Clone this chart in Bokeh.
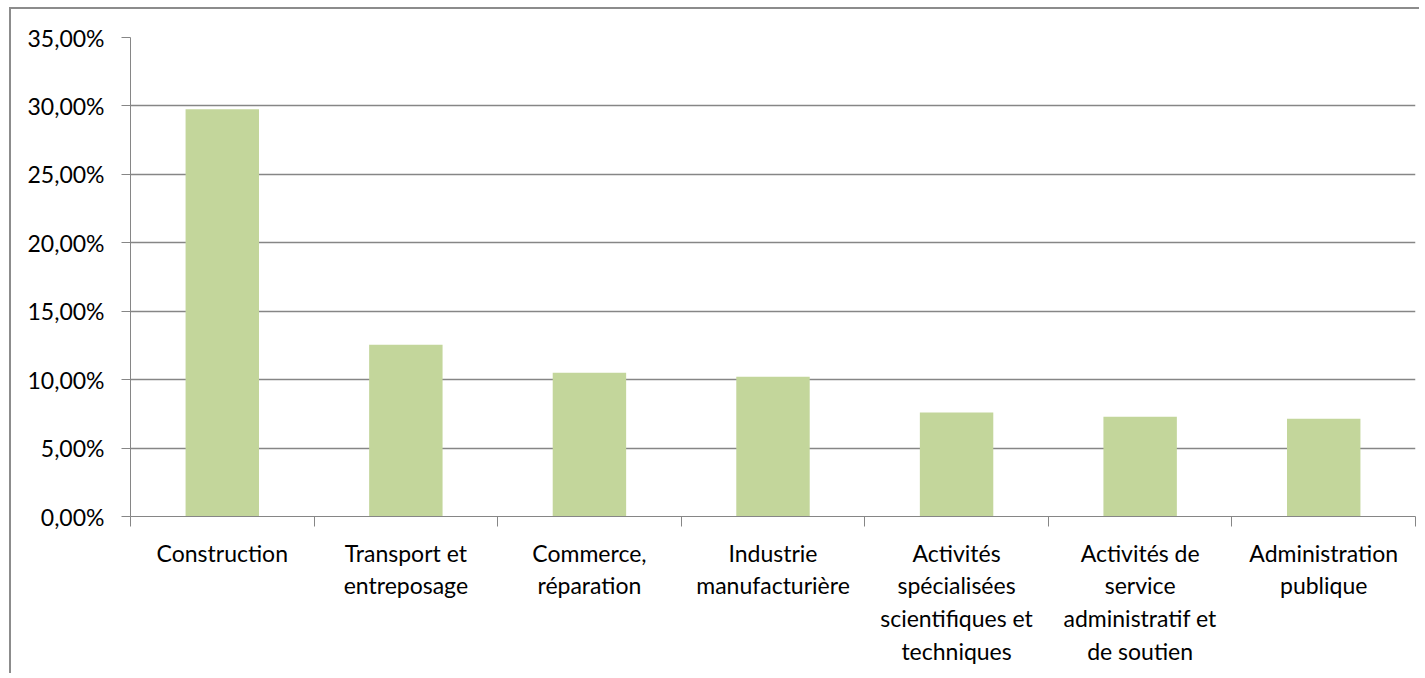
from bokeh.plotting import figure
from bokeh.models import FixedTicker, Range1d
from bokeh.embed import file_html
from bokeh.resources import INLINE

categories = [
    "Construction",
    "Transport et\nentreposage",
    "Commerce,\nréparation",
    "Industrie\nmanufacturière",
    "Activités\nspécialisées\nscientifiques et\ntechniques",
    "Activités de\nservice\nadministratif et\nde soutien",
    "Administration\npublique",
]
values = [29.75, 12.55, 10.5, 10.22, 7.6, 7.28, 7.14]
y_ticks = [0, 5, 10, 15, 20, 25, 30, 35]

FONT = "Lato"
GRAY = "#868686"

xs = list(range(len(categories)))

p = figure(width=1410, height=666, output_backend="svg", toolbar_location=None,
           x_range=Range1d(-0.5, len(categories) - 0.5), y_range=Range1d(0, 35),
           min_border_left=119, min_border_right=6, min_border_top=28, min_border_bottom=159)
p.styles = {"border-top": "2px solid #8c8c8c", "border-left": "2px solid #8c8c8c",
            "margin-left": "9px", "margin-top": "7px"}
p.outline_line_color = None
p.background_fill_color = "white"
p.border_fill_color = "white"

p.vbar(x=xs, top=values, width=0.4, color="#C3D69B", line_color=None)

# x axis
xt = FixedTicker(ticks=xs, minor_ticks=[i - 0.5 for i in range(len(categories) + 1)])
p.xaxis.ticker = xt
p.xaxis.major_label_overrides = {i: c for i, c in enumerate(categories)}
p.xaxis.major_tick_out = 0
p.xaxis.major_tick_in = 0
p.xaxis.minor_tick_out = 10
p.xaxis.minor_tick_in = 0
p.xaxis.minor_tick_line_color = GRAY
p.xaxis.axis_line_color = GRAY
p.xaxis.major_label_text_font = FONT
p.xaxis.major_label_text_font_size = "23px"
p.xaxis.major_label_text_color = "black"
p.xaxis.major_label_text_line_height = 1.17
p.xaxis.major_label_standoff = 12

# y axis
p.yaxis.ticker = FixedTicker(ticks=y_ticks)
p.yaxis.major_label_overrides = {v: f"{v:.2f}".replace(".", ",") + "%" for v in y_ticks}
p.yaxis.major_tick_out = 9
p.yaxis.major_tick_in = 0
p.yaxis.minor_tick_line_color = None
p.yaxis.axis_line_color = GRAY
p.yaxis.major_tick_line_color = GRAY
p.yaxis.major_label_text_font = FONT
p.yaxis.major_label_text_font_size = "23px"
p.yaxis.major_label_text_color = "black"
p.yaxis.major_label_standoff = 17

p.xgrid.grid_line_color = None
p.ygrid.ticker = FixedTicker(ticks=y_ticks)
p.ygrid.grid_line_color = GRAY
p.ygrid.grid_line_width = 1.5

open("out.html", "w").write(file_html(p, INLINE))
